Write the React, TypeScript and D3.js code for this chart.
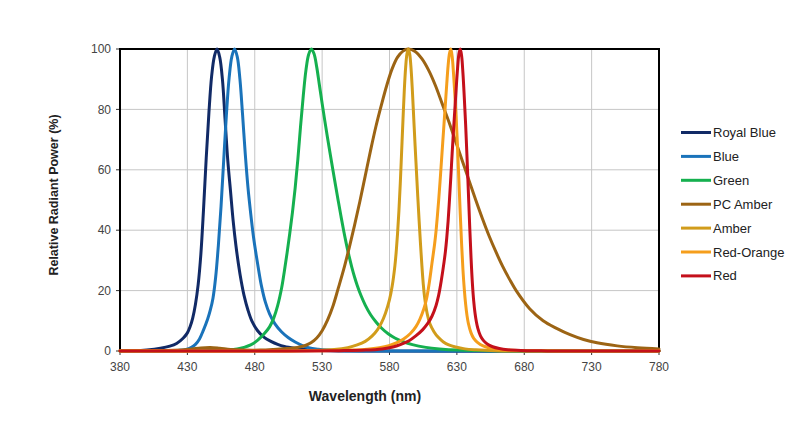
import React from "react";
import * as d3 from "d3";

type Pt = [number, number];

const seriesNames = ["Royal Blue", "Blue", "Green", "PC Amber", "Amber", "Red-Orange", "Red"];
const seriesColors = ["#112a66", "#1a73ba", "#15b04f", "#9c6414", "#d19c1b", "#f59e1c", "#c4101b"];

const royalBlue: Pt[] = [
  [380, 0.05], [390, 0.1], [400, 0.35], [410, 0.9], [417, 1.6], [422, 2.5], [427, 4.3], [430, 6], [432, 8],
  [434, 11], [436, 15.5], [438, 22], [440, 32], [442, 47], [444, 64], [446, 79], [448, 91], [450, 97.5],
  [452, 100], [454, 97.3], [456, 90], [458, 76.5], [460, 63], [462, 53], [464, 43], [466, 35], [468, 28.5],
  [470, 23], [472, 18.5], [475, 13.5], [478, 9.8], [482, 6.8], [487, 4.5], [492, 3.2], [497, 2.2], [502, 1.5],
  [510, 0.9], [520, 0.4], [530, 0.15], [542, 0], [780, 0],
];

const blue: Pt[] = [
  [380, 0], [415, 0.05], [423, 0.2], [429, 0.5], [433, 1.2], [436, 2.2], [439, 4], [442, 7], [445, 10.5],
  [447, 13.5], [449, 17.5], [451, 24.5], [453, 35], [455, 48], [457, 63.5], [459, 78.5], [461, 90.5],
  [463, 97.5], [465, 100], [467, 97.5], [469, 90], [471, 78], [473, 65], [475, 54], [477, 45.5], [479, 38],
  [481, 32], [483, 26.5], [485, 21.5], [488, 16], [491, 12.3], [495, 9], [500, 6.3], [505, 4.4], [510, 3],
  [515, 1.9], [520, 1.1], [527, 0.6], [535, 0.3], [550, 0.1], [565, 0], [780, 0],
];

const green: Pt[] = [
  [380, 0], [432, 0.05], [447, 0.15], [460, 0.4], [467, 0.7], [472, 1.2], [477, 2], [482, 3.5], [487, 5.7],
  [491, 8], [494, 10.8], [497, 15], [500, 21], [502, 26.5], [504, 32.5], [506, 39], [508, 46], [510, 54],
  [512, 63.5], [514, 74.5], [516, 84.5], [518, 93], [520, 98.2], [522, 100], [524, 98.4], [526, 94], [528, 88],
  [530, 82], [532, 76.2], [534, 70.6], [536, 65.2], [538, 59.9], [540, 54.7], [542, 49.6], [544, 44.6],
  [546, 39.8], [548, 35.4], [550, 31.4], [552, 27.8], [554, 24.6], [556, 21.8], [559, 18.2], [562, 15.2],
  [566, 12], [570, 9.6], [574, 7.6], [579, 5.7], [584, 4.3], [590, 3.1], [597, 2.1], [607, 1.2], [617, 0.7],
  [632, 0.3], [652, 0.1], [672, 0], [780, 0],
];

const pcAmber: Pt[] = [
  [380, 0.1], [400, 0.15], [420, 0.25], [432, 0.6], [440, 1], [447, 1.15], [454, 0.9], [462, 0.5], [472, 0.3],
  [484, 0.3], [494, 0.5], [504, 0.8], [509, 1], [514, 1.4], [518, 1.9], [522, 2.8], [526, 4.3], [530, 6.7],
  [534, 10.2], [538, 14.8], [542, 20.8], [546, 27], [550, 34], [554, 41.5], [558, 49.5], [562, 58], [566, 66.5],
  [570, 74.5], [574, 81.5], [578, 88], [582, 93.5], [586, 97.3], [590, 99.3], [594, 100], [599, 99.2],
  [604, 96.8], [609, 93], [614, 88], [619, 82], [624, 76], [629, 69.5], [634, 63], [639, 56.5], [644, 50],
  [649, 43.8], [654, 38], [659, 32.8], [664, 28], [669, 23.8], [674, 20], [684, 14], [694, 10], [704, 7.5],
  [714, 5.4], [724, 3.8], [734, 2.7], [749, 1.7], [764, 1.1], [780, 0.7],
];

const amber: Pt[] = [
  [380, 0], [504, 0], [519, 0.15], [539, 0.5], [549, 1.1], [556, 2], [562, 3.2], [567, 4.9], [571, 7],
  [574, 9.3], [577, 12.5], [580, 17], [582, 21.5], [584, 28.2], [585, 33], [586, 39], [587, 46.5], [588, 55.5],
  [589, 66], [590, 76.5], [591, 86.5], [592, 94], [593, 98.5], [594, 100], [595, 98.3], [596, 93.5], [597, 86],
  [598, 77], [599, 68], [600, 59.5], [601, 51], [602, 43], [603, 35.5], [604, 28.5], [605, 22.5], [606, 18],
  [608, 12.3], [610, 9], [613, 6.4], [616, 4.6], [620, 3], [624, 2], [629, 1.3], [636, 0.7], [644, 0.4],
  [659, 0.1], [679, 0], [780, 0],
];

const redOrange: Pt[] = [
  [380, 0], [505.5, 0], [530.5, 0.1], [550.5, 0.3], [563.5, 0.6], [572.5, 1.1], [579.5, 1.8], [585.5, 2.8],
  [590.5, 4], [595.5, 5.8], [599.5, 8], [602.5, 10.5], [605.5, 14], [607.5, 17.3], [609.5, 22.5], [611.5, 29],
  [613.5, 35.5], [614.5, 39.5], [615.5, 44.5], [616.5, 50], [617.5, 56], [618.5, 62.5], [619.5, 69],
  [620.5, 75.5], [621.5, 82], [622.5, 88.5], [623.5, 94.5], [624.5, 98.5], [625.5, 100], [626.5, 97.5],
  [627.5, 92], [628.5, 85], [629.5, 77], [630.5, 67.5], [631.5, 56.5], [632.5, 45.5], [633.5, 35.5],
  [634.5, 27], [635.5, 20.5], [636.5, 15.5], [637.5, 11.8], [638.5, 9.2], [640.5, 6], [642.5, 4.2],
  [645.5, 2.8], [649.5, 1.7], [653.5, 1.1], [659.5, 0.6], [670.5, 0.25], [685.5, 0.1], [705.5, 0], [780, 0],
];

const red: Pt[] = [
  [380, 0], [517.5, 0], [542.5, 0.1], [562.5, 0.3], [574.5, 0.7], [582.5, 1.3], [588.5, 2.2], [594.5, 3.4],
  [599.5, 5], [604.5, 7], [608.5, 9.2], [611.5, 11.5], [614.5, 15], [616.5, 18.5], [618.5, 23.5], [620.5, 29.5],
  [621.5, 33], [622.5, 37.5], [623.5, 43], [624.5, 50], [625.5, 57.5], [626.5, 65.5], [627.5, 73], [628.5, 80],
  [629.5, 87], [630.5, 93.5], [631.5, 98.3], [632.5, 100], [633.5, 97.8], [634.5, 92], [635.5, 84], [636.5, 75],
  [637.5, 64.5], [638.5, 53], [639.5, 41.5], [640.5, 31], [641.5, 22.5], [642.5, 16.5], [643.5, 12.4],
  [644.5, 9.6], [645.5, 7.6], [647.5, 5], [649.5, 3.6], [652.5, 2.3], [656.5, 1.4], [661.5, 0.8], [667.5, 0.4],
  [677.5, 0.15], [692.5, 0.05], [707.5, 0], [780, 0],
];

const seriesData = [royalBlue, blue, green, pcAmber, amber, redOrange, red];

const xTicks = [380, 430, 480, 530, 580, 630, 680, 730, 780];
const yTicks = [0, 20, 40, 60, 80, 100];

export default function App() {
  const W = 800;
  const H = 427;
  const left = 120;
  const right = 659;
  const top = 49;
  const bottom = 351;

  const x = d3.scaleLinear().domain([380, 780]).range([left, right]);
  const y = d3.scaleLinear().domain([0, 100]).range([bottom, top]);

  const line = d3
    .line<Pt>()
    .x((d) => x(d[0]))
    .y((d) => y(Math.min(100, Math.max(0, d[1]))))
    .curve(d3.curveCatmullRom.alpha(0.5));

  const font = "Arial, 'Liberation Sans', sans-serif";

  return (
    <svg
      width={W}
      height={H}
      viewBox={`0 0 ${W} ${H}`}
      style={{ position: "absolute", left: 0, top: 0, background: "#fff" }}
      fontFamily={font}
    >
      <rect x={0} y={0} width={W} height={H} fill="#fff" />
      {xTicks.slice(1, -1).map((t) => (
        <line key={"gx" + t} x1={x(t)} x2={x(t)} y1={top} y2={bottom} stroke="#c6c6c6" strokeWidth={1} />
      ))}
      {yTicks.slice(1, -1).map((t) => (
        <line key={"gy" + t} x1={left} x2={right} y1={y(t)} y2={y(t)} stroke="#c6c6c6" strokeWidth={1} />
      ))}
      {xTicks.map((t) => (
        <line key={"tx" + t} x1={x(t)} x2={x(t)} y1={bottom} y2={bottom + 4} stroke="#333" strokeWidth={1} />
      ))}
      {yTicks.map((t) => (
        <line key={"ty" + t} x1={left - 4} x2={left} y1={y(t)} y2={y(t)} stroke="#333" strokeWidth={1} />
      ))}
      <rect x={left} y={top} width={right - left} height={bottom - top} fill="none" stroke="#000" strokeWidth={2} />
      {seriesData.map((d, i) => (
        <path
          key={seriesNames[i]}
          d={line(d) || ""}
          fill="none"
          stroke={seriesColors[i]}
          strokeWidth={3}
          strokeLinejoin="round"
          strokeLinecap="round"
        />
      ))}
      {xTicks.map((t) => (
        <text key={"lx" + t} x={x(t)} y={bottom + 20} textAnchor="middle" fontSize={12} fill="#444">
          {t}
        </text>
      ))}
      {yTicks.map((t) => (
        <text key={"ly" + t} x={left - 9} y={y(t)} dy="0.35em" textAnchor="end" fontSize={12} fill="#444">
          {t}
        </text>
      ))}
      <text x={365} y={401} textAnchor="middle" fontSize={14} fontWeight="bold" fill="#222">
        Wavelength (nm)
      </text>
      <text
        transform={`translate(58, 195) rotate(-90)`}
        textAnchor="middle"
        fontSize={12.5}
        fontWeight="bold"
        fill="#222"
      >
        Relative Radiant Power (%)
      </text>
      {seriesNames.map((n, i) => {
        const ly = 132.5 + i * 23.9;
        return (
          <g key={"lg" + n}>
            <line x1={681} x2={711} y1={ly} y2={ly} stroke={seriesColors[i]} strokeWidth={3} />
            <text x={713} y={ly} dy="0.35em" fontSize={13} fill="#222">
              {n}
            </text>
          </g>
        );
      })}
    </svg>
  );
}
